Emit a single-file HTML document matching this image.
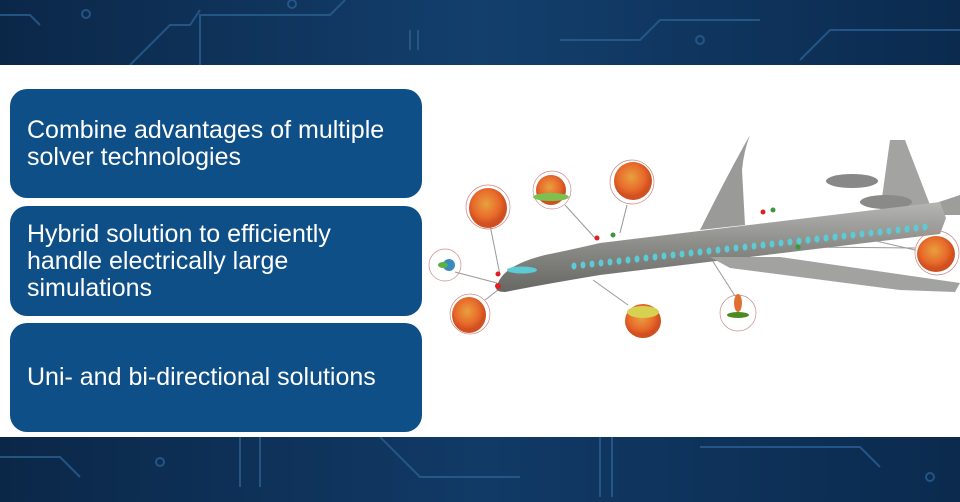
<!DOCTYPE html>
<html><head><style>
body{margin:0;width:960px;height:502px;overflow:hidden;background:#0c2a4d;font-family:"Liberation Sans",sans-serif;position:relative}
.band{position:absolute;left:0;width:960px}
.top{top:0;height:65px;background:linear-gradient(90deg,#0b2748,#133f6d 50%,#0b2a4e)}
.bot{top:437px;height:65px;background:linear-gradient(90deg,#0b2748,#113a66 50%,#0b2a4e)}
.white{position:absolute;left:0;top:65px;width:960px;height:372px;background:#fff}
.box{position:absolute;left:10px;width:412px;background:#0f4f88;border-radius:17px;color:#fff;font-size:25px;line-height:27px;box-sizing:border-box;padding-left:17px;display:flex;align-items:center}
</style></head><body>
<div class="band top"><svg width="960" height="65" style="position:absolute"><g stroke="#2a5f91" stroke-width="2" fill="none" opacity=".8"><path d="M0 15 H30 L40 25"/><path d="M130 65 L170 25 H190 L200 10"/><path d="M200 65 V15 H330 L345 0"/><path d="M560 40 H640 L660 20 H760"/><path d="M410 50 V30 M418 50 V30"/><path d="M800 60 L830 30 H960"/><circle cx="86" cy="14" r="4"/><circle cx="292" cy="4" r="4"/><circle cx="700" cy="40" r="4"/></g></svg></div>
<div class="white"></div>
<div class="band bot"><svg width="960" height="65" style="position:absolute"><g stroke="#2a5f91" stroke-width="2" fill="none" opacity=".8"><path d="M0 20 H60 L80 40"/><path d="M240 0 V50 M260 0 V50"/><path d="M380 0 L420 40 H520"/><path d="M600 0 V60 M612 0 V60"/><path d="M700 10 H860 L880 30"/><circle cx="160" cy="25" r="4"/><circle cx="930" cy="40" r="4"/></g></svg></div>
<div class="box" style="top:89px;height:109px">Combine advantages of multiple<br>solver technologies</div>
<div class="box" style="top:206px;height:110px">Hybrid solution to efficiently<br>handle electrically large<br>simulations</div>
<div class="box" style="top:323px;height:109px">Uni- and bi-directional solutions</div>
<svg width="960" height="502" style="position:absolute;left:0;top:0">
<defs><radialGradient id="b" cx=".45" cy=".4"><stop offset="0" stop-color="#e8a040"/><stop offset=".7" stop-color="#e86a2a"/><stop offset="1" stop-color="#d05020"/></radialGradient>
<linearGradient id="f" x1="0" y1="0" x2="0" y2="1"><stop offset="0" stop-color="#b5b5b3"/><stop offset=".5" stop-color="#8a8a87"/><stop offset="1" stop-color="#666663"/></linearGradient></defs>
<g stroke="#999" stroke-width="1"><line x1="490" y1="225" x2="500" y2="275"/><line x1="565" y1="205" x2="595" y2="238"/><line x1="627" y1="205" x2="620" y2="233"/><line x1="455" y1="272" x2="497" y2="283"/><line x1="485" y1="300" x2="498" y2="290"/><line x1="593" y1="280" x2="628" y2="305"/><line x1="712" y1="260" x2="735" y2="296"/><line x1="800" y1="247" x2="915" y2="248"/><line x1="850" y1="235" x2="915" y2="250"/></g>
<path d="M750 135 Q730 170 700 230 L745 225 L742 170 Q744 150 750 135 Z" fill="#9a9a98"/>
<path d="M890 140 L905 140 L930 205 L880 212 Z" fill="#a3a3a1"/>
<ellipse cx="852" cy="181" rx="26" ry="7" fill="#888"/><ellipse cx="886" cy="202" rx="26" ry="7" fill="#8a8a88"/>
<path d="M930 205 L960 195 L960 215 L935 215 Z" fill="#9d9d9b"/>
<path d="M498 283 Q505 265 545 255 Q570 250 600 243 L940 202 L946 218 L940 234 L600 275 Q540 285 505 292 Q492 292 498 283 Z" fill="url(#f)"/>
<path d="M710 257 L780 257 L960 283 L955 292 L900 290 L730 268 Z" fill="#a2a2a0"/>
<g fill="#5ccbd3"><ellipse cx="522" cy="270" rx="15" ry="3.5"/>
<g id="w"><ellipse cx="574" cy="266" rx="2.5" ry="3.5"/><ellipse cx="583" cy="265" rx="2.5" ry="3.5"/><ellipse cx="592" cy="264" rx="2.5" ry="3.5"/><ellipse cx="601" cy="263" rx="2.5" ry="3.5"/><ellipse cx="610" cy="262" rx="2.5" ry="3.5"/><ellipse cx="619" cy="261" rx="2.5" ry="3.5"/><ellipse cx="628" cy="260" rx="2.5" ry="3.5"/><ellipse cx="637" cy="259" rx="2.5" ry="3.5"/><ellipse cx="646" cy="258" rx="2.5" ry="3.5"/><ellipse cx="655" cy="257" rx="2.5" ry="3.5"/><ellipse cx="664" cy="256" rx="2.5" ry="3.5"/><ellipse cx="673" cy="255" rx="2.5" ry="3.5"/><ellipse cx="682" cy="254" rx="2.5" ry="3.5"/><ellipse cx="691" cy="253" rx="2.5" ry="3.5"/><ellipse cx="700" cy="252" rx="2.5" ry="3.5"/></g>
<use href="#w" transform="translate(135,-15)"/><use href="#w" transform="translate(225,-25)"/></g>
<g fill="#e02020"><circle cx="498" cy="286" r="3"/><circle cx="498" cy="274" r="2.5"/><circle cx="597" cy="238" r="2.5"/><circle cx="763" cy="212" r="2.5"/></g>
<g fill="#3a9a3a"><circle cx="613" cy="235" r="2.5"/><circle cx="773" cy="210" r="2.5"/><circle cx="798" cy="247" r="2.5"/></g>
<g stroke="#c88" stroke-width=".7" fill="none"><circle cx="488" cy="207" r="22"/><circle cx="632" cy="182" r="22"/><circle cx="445" cy="265" r="16"/><circle cx="470" cy="314" r="20"/><circle cx="738" cy="313" r="18"/><circle cx="937" cy="253" r="22"/><circle cx="552" cy="190" r="19"/></g>
<ellipse cx="488" cy="208" rx="19" ry="20" fill="url(#b)"/>
<ellipse cx="551" cy="190" rx="15" ry="15" fill="url(#b)"/><ellipse cx="551" cy="197" rx="18" ry="4" fill="#7cc050"/>
<ellipse cx="633" cy="181" rx="19" ry="19" fill="url(#b)"/>
<ellipse cx="449" cy="265" rx="6" ry="6" fill="#3a8ac0"/><ellipse cx="443" cy="265" rx="5" ry="3" fill="#5ab040"/>
<ellipse cx="469" cy="315" rx="17" ry="18" fill="url(#b)"/>
<ellipse cx="643" cy="321" rx="18" ry="17" fill="url(#b)"/><ellipse cx="643" cy="312" rx="16" ry="6" fill="#d8d050"/>
<ellipse cx="738" cy="303" rx="4" ry="9" fill="#e07030"/><ellipse cx="738" cy="315" rx="11" ry="3" fill="#4a8a20"/>
<ellipse cx="936" cy="254" rx="19" ry="18" fill="url(#b)"/>
</svg>
</body></html>
